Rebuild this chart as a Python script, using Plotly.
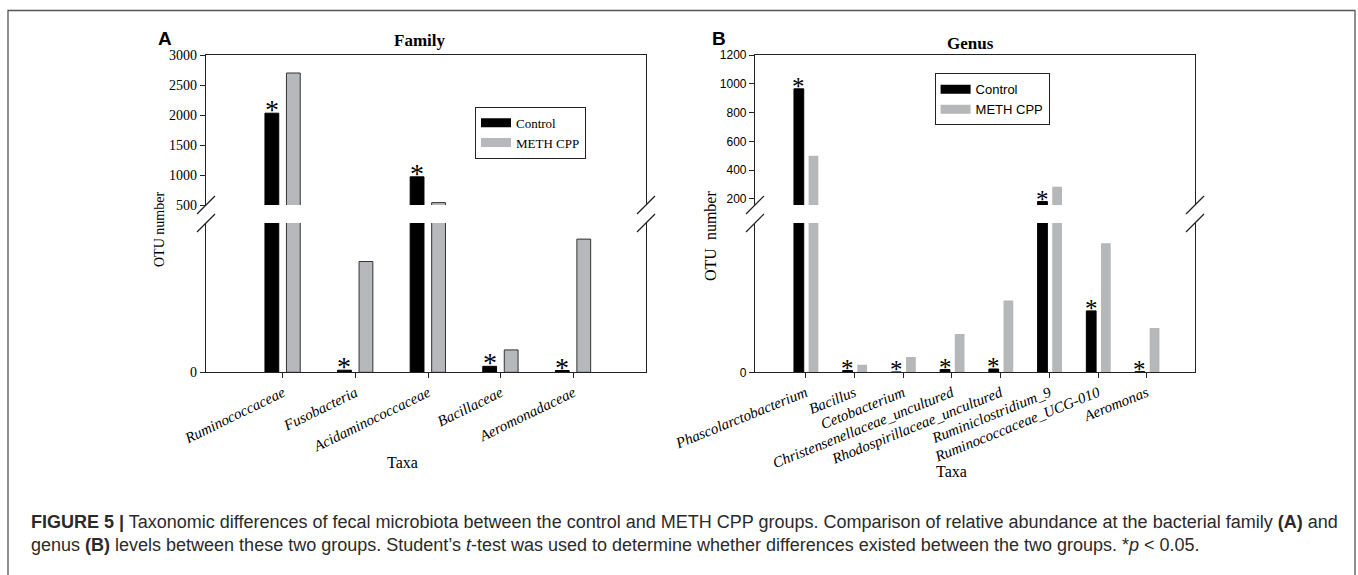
import plotly.graph_objects as go

# ---------------- data ----------------
family_taxa = ["Ruminococcaceae", "Fusobacteria", "Acidaminococcaceae", "Bacillaceae", "Aeromonadaceae"]
family_control = [2030, 7, 970, 20, 6]
family_meth = [2700, 371, 540, 75, 446]
family_sig = [True, True, True, True, True]
family_lower_range = [0, 500]
family_upper_range = [500, 3000]
family_upper_ticks = [500, 1000, 1500, 2000, 2500, 3000]

genus_taxa = ["Phascolarctobacterium", "Bacillus", "Cetobacterium", "Christensenellaceae_uncultured",
              "Rhodospirillaceae_uncultured", "Ruminiclostridium_9", "Ruminococcaceae_UCG-010", "Aeromonas"]
genus_control = [965, 1.8, 0.3, 2.9, 3.5, 182, 65, 0.7]
genus_meth = [500, 8.1, 16.2, 40.5, 76, 285, 136.5, 47]
genus_sig = [True, True, True, True, True, True, True, True]
genus_lower_range = [0, 158]
genus_upper_range = [158, 1200]
genus_upper_ticks = [200, 400, 600, 800, 1000, 1200]

series_names = ["Control", "METH CPP"]

# ---------------- helpers ----------------
W, H = 1358, 575
def px(x):
    return x / W
def py(y):
    return 1 - y / H

SERIF = "Liberation Serif, Times New Roman, serif"
SANS = "Liberation Sans, Arial, sans-serif"
AX = "#222222"
GRAY_A = "#b6b8bb"
GRAY_B = "#b5b7b9"

UP_TOP, UP_BOT = 55, 205
LO_TOP, LO_BOT = 223, 372.3
A_LEFT, A_RIGHT = 206, 646
B_LEFT, B_RIGHT = 755, 1195

fig = go.Figure()

def add_panel(taxa, ctrl, meth, sig, xl, yl, xu, yu, meth_color, meth_line, width, off_c, off_m,
              lower_max, star_size, star_shift, legend_name):
    for xa, ya in [(xl, yl), (xu, yu)]:
        fig.add_trace(go.Bar(x=taxa, y=ctrl, xaxis=xa, yaxis=ya, width=width, offset=off_c,
                             marker=dict(color="black", line=dict(color="black", width=1)),
                             showlegend=False, hoverinfo="skip"))
        fig.add_trace(go.Bar(x=taxa, y=meth, xaxis=xa, yaxis=ya, width=width, offset=off_m,
                             marker=dict(color=meth_color, line=meth_line),
                             showlegend=False, hoverinfo="skip"))
    # legend entries
    for name, col in zip(series_names, ["black", meth_color]):
        fig.add_trace(go.Scatter(x=[None], y=[None], xaxis=xl, yaxis=yl, mode="lines",
                                 line=dict(color=col, width=9), name=name, legend=legend_name,
                                 hoverinfo="skip"))
    # significance stars
    for i, (v, s) in enumerate(zip(ctrl, sig)):
        if not s:
            continue
        up = v > lower_max
        fig.add_annotation(x=i + off_c + width / 2, y=v,
                           xref=xu if up else xl, yref=yu if up else yl,
                           text="*", showarrow=False, xanchor="center", yanchor="bottom",
                           yshift=star_shift,
                           font=dict(family=SERIF, size=star_size, color="black"))

add_panel(family_taxa, family_control, family_meth, family_sig, "x", "y", "x2", "y2",
          GRAY_A, dict(color="#333333", width=1), 0.19, -0.248, 0.048,
          family_lower_range[1], 28, -14, "legend")
add_panel(genus_taxa, genus_control, genus_meth, genus_sig, "x3", "y3", "x4", "y4",
          GRAY_B, dict(width=0), 0.2, -0.24, 0.06,
          genus_lower_range[1], 25, -13, "legend2")

def xaxis_low(dom, rng, angle, anchor):
    return dict(domain=dom, anchor=anchor, range=rng, type="category", showline=True, linecolor=AX,
                linewidth=1.2, ticks="outside", ticklen=5, tickcolor=AX, showgrid=False,
                zeroline=False, tickangle=angle, automargin=False,
                tickfont=dict(family=SERIF, size=15, style="italic", color="black"))

def xaxis_up(dom, anchor, match):
    return dict(domain=dom, anchor=anchor, matches=match, type="category", side="top",
                showline=True, linecolor=AX, linewidth=1.2, ticks="", showticklabels=False,
                showgrid=False, zeroline=False, automargin=False)

def yaxis(dom, anchor, rng, ticks, font):
    return dict(domain=dom, anchor=anchor, range=rng, tickmode="array", tickvals=ticks,
                ticktext=[str(t) for t in ticks], showline=True, mirror=True, linecolor=AX,
                linewidth=1.2, ticks="outside", ticklen=5, tickcolor=AX, showgrid=False,
                zeroline=False, tickfont=font, automargin=False)

domA = [px(A_LEFT), px(A_RIGHT)]
domB = [px(B_LEFT), px(B_RIGHT)]
dom_up = [py(UP_BOT), py(UP_TOP)]
dom_lo = [py(LO_BOT), py(LO_TOP)]
fontA = dict(family=SERIF, size=14, color="black")
fontB = dict(family=SANS, size=12, color="black")

fig.update_layout(
    width=W, height=H, margin=dict(l=0, r=0, t=0, b=0, pad=0, autoexpand=False),
    paper_bgcolor="white", plot_bgcolor="white", barmode="overlay",
    xaxis=xaxis_low(domA, [-1.06, 5.0], -26, "y"),
    xaxis2=xaxis_up(domA, "y2", "x"),
    yaxis=yaxis(dom_lo, "x", family_lower_range, [0], fontA),
    yaxis2=yaxis(dom_up, "x2", family_upper_range, family_upper_ticks, fontA),
    xaxis3=xaxis_low(domB, [-1.04, 7.99], -22, "y3"),
    xaxis4=xaxis_up(domB, "y4", "x3"),
    yaxis3=yaxis(dom_lo, "x3", genus_lower_range, [0], fontB),
    yaxis4=yaxis(dom_up, "x4", genus_upper_range, genus_upper_ticks, fontB),
    legend=dict(x=px(475), y=py(106.7), xanchor="left", yanchor="top", bgcolor="white",
                bordercolor="#222", borderwidth=1, tracegroupgap=0,
                font=dict(family=SERIF, size=13, color="black")),
    legend2=dict(x=px(934.6), y=py(73.3), xanchor="left", yanchor="top", bgcolor="white",
                 bordercolor="#222", borderwidth=1, tracegroupgap=0,
                 font=dict(family=SANS, size=13, color="black")),
    showlegend=True,
)

# text annotations
def ann(text, x, y, size, family, xanchor="center", color="black", **kw):
    fig.add_annotation(text=text, x=px(x), y=py(y), xref="paper", yref="paper", showarrow=False,
                       xanchor=xanchor, yanchor="middle",
                       font=dict(family=family, size=size, color=color), **kw)

ann("<b>A</b>", 164.5, 38.5, 19, SANS)
ann("<b>B</b>", 719, 38.5, 19, SANS)
ann("<b>Family</b>", 419, 40, 17, SERIF)
ann("<b>Genus</b>", 970, 43, 17, SERIF)
ann("OTU number", 159, 230, 14, SERIF, textangle=-90)
ann("OTU&nbsp;&nbsp;number", 711, 236, 16, SERIF, textangle=-90)
ann("Taxa", 402, 463, 16, SERIF)
ann("Taxa", 952, 471, 16, SERIF)

cap1 = ("<b>FIGURE 5 |</b> Taxonomic differences of fecal microbiota between the control and METH CPP "
        "groups. Comparison of relative abundance at the bacterial family <b>(A)</b> and")
cap2 = ("genus <b>(B)</b> levels between these two groups. Student’s <i>t</i>-test was used to determine "
        "whether differences existed between the two groups. *<i>p</i> &lt; 0.05.")
ann(cap1, 29, 522, 18, SANS, xanchor="left", color="#2a2a2a")
ann(cap2, 29, 545, 18, SANS, xanchor="left", color="#2a2a2a")

# decorations: outer frame and axis-break slashes
fig.add_shape(type="rect", xref="paper", yref="paper", x0=px(8), x1=px(1355), y0=py(580), y1=py(10.5),
              line=dict(color="#555", width=1.3), fillcolor="rgba(0,0,0,0)", layer="below")
for axx in [A_LEFT, A_RIGHT, B_LEFT, B_RIGHT]:
    for yy in [UP_BOT, LO_TOP]:
        fig.add_shape(type="line", xref="paper", yref="paper", x0=px(axx - 9), y0=py(yy + 9),
                      x1=px(axx + 9), y1=py(yy - 9), line=dict(color=AX, width=1.2))

fig.write_html("out.html")
